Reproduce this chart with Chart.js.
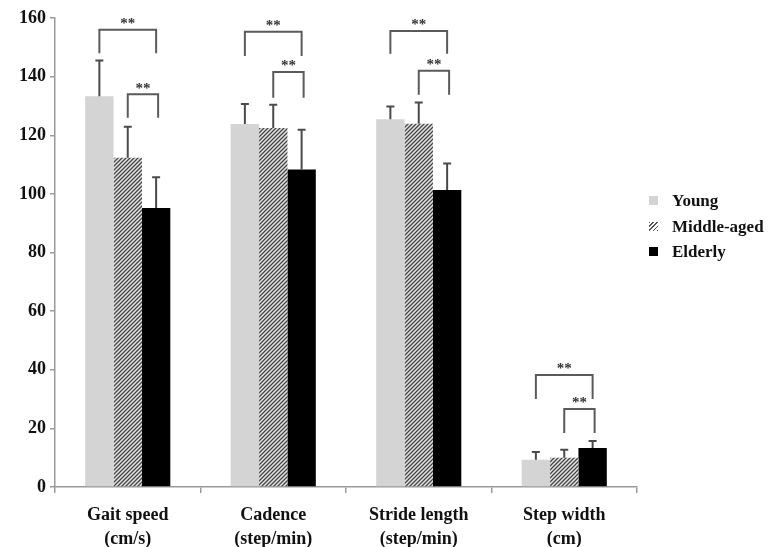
<!DOCTYPE html>
<html>
<head>
<meta charset="utf-8">
<script src="https://cdn.jsdelivr.net/npm/chart.js@4"></script>
<style>
  html, body { margin:0; padding:0; background:#fff; }
  #wrap { position:relative; width:768px; height:547px; }
  #legend { position:absolute; left:649px; top:188px; font:bold 17px "Liberation Serif", "DejaVu Serif", serif; color:#111; }
  #legend div { height:25.5px; line-height:25.5px; white-space:nowrap; }
  #legend span { display:inline-block; width:9px; height:9px; margin-right:14px; vertical-align:1px; }
</style>
</head>
<body>
<div id="wrap">
  <canvas id="gait-chart" width="768" height="547"></canvas>
  <div id="legend"></div>
</div>
<script>
// values (mean and SD)
const categories = [['Gait speed','(cm/s)'], ['Cadence','(step/min)'], ['Stride length','(step/min)'], ['Step width','(cm)']];
const seriesNames = ['Young', 'Middle-aged', 'Elderly'];
const young     = [133.3, 123.8, 125.5, 9.3];
const youngSD   = [12.2, 6.9, 4.3, 2.6];
const middle    = [112.3, 122.5, 123.9, 10.0];
const middleSD  = [10.6, 7.9, 7.3, 2.7];
const elderly   = [95.2, 108.3, 101.3, 13.3];
const elderlySD = [10.5, 13.6, 9.1, 2.4];
// significance brackets (** p<0.01): young vs elderly, middle-aged vs elderly
const outerTop  = [156.0, 155.3, 155.6, 38.2];
const outerFoot = [148.0, 147.0, 147.8, 30.0];
const innerTop  = [134.0, 141.6, 142.0, 26.6];
const innerFoot = [126.0, 132.8, 133.8, 18.4];
const yTicks = [0, 20, 40, 60, 80, 100, 120, 140, 160];

const AXIS = '#9a9a9a', INK = '#111';
const FONT = '"Liberation Serif", "DejaVu Serif", serif';

function hatch() {
  const c = document.createElement('canvas');
  c.width = 4; c.height = 4;
  const g = c.getContext('2d');
  g.fillStyle = '#e6e6e6'; g.fillRect(0, 0, 4, 4);
  g.strokeStyle = '#444'; g.lineWidth = 1.3;
  g.beginPath();
  g.moveTo(-1, 5); g.lineTo(5, -1);
  g.moveTo(-1, 1); g.lineTo(1, -1);
  g.moveTo(3, 5); g.lineTo(5, 3);
  g.stroke();
  return g.createPattern(c, 'repeat');
}
const hatchFill = hatch();
const fills = ['#d4d4d4', hatchFill, '#000'];
const sds = [youngSD, middleSD, elderlySD];

const extras = {
  id: 'extras',
  afterDatasetsDraw(chart) {
    const { ctx, scales: { y } } = chart;
    const bar = (ds, i) => chart.getDatasetMeta(ds).data[i];
    ctx.save();
    // error bars, upward only
    ctx.strokeStyle = '#4a4a4a'; ctx.lineWidth = 2;
    chart.data.datasets.forEach((d, ds) => {
      d.data.forEach((v, i) => {
        const b = bar(ds, i), top = y.getPixelForValue(v + sds[ds][i]);
        ctx.beginPath();
        ctx.moveTo(b.x, b.y); ctx.lineTo(b.x, top);
        ctx.moveTo(b.x - 4, top); ctx.lineTo(b.x + 4, top);
        ctx.stroke();
      });
    });
    // brackets
    ctx.strokeStyle = '#5a5a5a'; ctx.lineWidth = 2;
    ctx.fillStyle = '#333'; ctx.font = 'bold 15px ' + FONT;
    ctx.textAlign = 'center'; ctx.textBaseline = 'bottom';
    const bracket = (x1, x2, t, f) => {
      const yt = y.getPixelForValue(t), yf = y.getPixelForValue(f);
      ctx.beginPath();
      ctx.moveTo(x1, yf); ctx.lineTo(x1, yt); ctx.lineTo(x2, yt); ctx.lineTo(x2, yf);
      ctx.stroke();
      ctx.fillText('**', (x1 + x2) / 2, yt + 2);
    };
    categories.forEach((c, i) => {
      bracket(bar(0, i).x, bar(2, i).x, outerTop[i], outerFoot[i]);
      bracket(bar(1, i).x, bar(2, i).x + 2, innerTop[i], innerFoot[i]);
    });
    ctx.restore();
  }
};

new Chart(document.getElementById('gait-chart'), {
  type: 'bar',
  data: {
    labels: categories,
    datasets: [
      { label: seriesNames[0], data: young,   backgroundColor: fills[0] },
      { label: seriesNames[1], data: middle,  backgroundColor: fills[1] },
      { label: seriesNames[2], data: elderly, backgroundColor: fills[2] }
    ]
  },
  options: {
    responsive: false,
    animation: false,
    layout: { padding: { top: 18, right: 131, left: 0, bottom: 0 } },
    datasets: { bar: { categoryPercentage: 0.585, barPercentage: 1.0 } },
    plugins: { legend: { display: false }, tooltip: { enabled: false } },
    scales: {
      x: {
        grid: { drawOnChartArea: false, color: AXIS, tickLength: 6, lineWidth: 1.5 },
        border: { color: AXIS, width: 1.5 },
        ticks: { color: INK, font: { family: FONT, size: 18, weight: 'bold', lineHeight: 1.3 }, padding: 11 },
        afterFit: s => { s.height = 60; }
      },
      y: {
        min: 0, max: 160,
        afterBuildTicks: s => { s.ticks = yTicks.map(v => ({ value: v })); },
        grid: { drawOnChartArea: false, color: AXIS, tickLength: 5, lineWidth: 1.5 },
        border: { color: AXIS, width: 1.5 },
        ticks: { color: INK, font: { family: FONT, size: 18, weight: 'bold' }, padding: 4 },
        afterFit: s => { s.width = 55; }
      }
    }
  },
  plugins: [extras]
});

document.getElementById('legend').innerHTML = seriesNames.map((n, i) => {
  const bg = i === 1
    ? 'background:repeating-linear-gradient(-45deg,#555 0 1.2px,#fff 1.2px 3px)'
    : `background:${fills[i]}`;
  return `<div><span style="${bg}"></span>${n}</div>`;
}).join('');
</script>
</body>
</html>
